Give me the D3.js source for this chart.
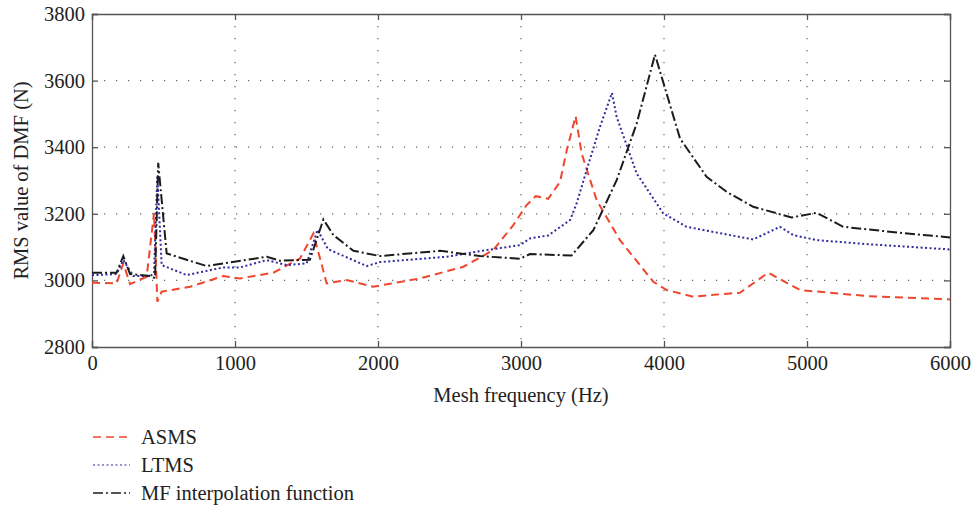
<!DOCTYPE html>
<html>
<head>
<meta charset="utf-8">
<script src="https://cdn.jsdelivr.net/npm/d3@7"></script>
<style>
  body { margin: 0; background: #fff; }
  text { font-family: "Liberation Serif", "DejaVu Serif", serif; fill: #222; }
</style>
</head>
<body>
<div class="canvas"></div>
<script>
// data
const xTicks = [0, 1000, 2000, 3000, 4000, 5000, 6000];
const yTicks = [2800, 3000, 3200, 3400, 3600, 3800];

const asmsX = [0, 21, 172, 219, 266, 382, 434, 457, 487, 685, 918, 1035, 1268, 1455, 1548, 1641, 1781, 1968, 2294, 2597, 2806, 2946, 3039, 3103, 3190, 3273, 3320, 3382, 3424, 3529, 3692, 3925, 4019, 4205, 4462, 4531, 4729, 4951, 5417, 6000];
const asmsY = [2993, 2993, 2991, 3051, 2989, 3011, 3203, 2936, 2966, 2981, 3013, 3006, 3023, 3066, 3141, 2991, 3001, 2981, 3006, 3041, 3091, 3166, 3226, 3253, 3245, 3296, 3391, 3493, 3381, 3241, 3121, 2996, 2971, 2951, 2961, 2963, 3023, 2971, 2953, 2943];

const ltmsX = [0, 21, 172, 219, 289, 406, 434, 457, 487, 662, 918, 1035, 1222, 1361, 1501, 1577, 1650, 1921, 2014, 2480, 2713, 2993, 3063, 3190, 3343, 3389, 3459, 3552, 3636, 3669, 3809, 3995, 4158, 4462, 4624, 4811, 4904, 5067, 5417, 6000];
const ltmsY = [3016, 3016, 3019, 3061, 3013, 3013, 3021, 3316, 3046, 3016, 3039, 3039, 3061, 3046, 3051, 3152, 3094, 3043, 3055, 3071, 3088, 3106, 3126, 3135, 3181, 3231, 3331, 3461, 3563, 3491, 3321, 3201, 3161, 3136, 3123, 3161, 3136, 3121, 3109, 3093];

const mfX = [0, 21, 172, 219, 266, 406, 441, 463, 522, 802, 1222, 1315, 1524, 1618, 1688, 1828, 2014, 2434, 2713, 2993, 3063, 3354, 3506, 3669, 3809, 3937, 4112, 4298, 4438, 4624, 4892, 5067, 5253, 5650, 6000];
const mfY = [3023, 3023, 3023, 3073, 3019, 3013, 3007, 3353, 3081, 3043, 3071, 3059, 3062, 3183, 3136, 3089, 3073, 3089, 3073, 3065, 3079, 3075, 3151, 3301, 3471, 3678, 3426, 3311, 3266, 3221, 3189, 3203, 3161, 3143, 3129];

const seriesNames = ['ASMS', 'LTMS', 'MF interpolation function'];
const seriesColors = ['#f0462d', '#2f2b9c', '#1c1c1c'];
const seriesDash = ['8,5', '2,2.5', '10,3,2,3'];

const series = [
  asmsX.map((x, i) => ({x, y: asmsY[i]})),
  ltmsX.map((x, i) => ({x, y: ltmsY[i]})),
  mfX.map((x, i) => ({x, y: mfY[i]}))
];

const fontSize = '20.5px';

const svg = d3.select('.canvas')
  .append('svg')
  .attr('width', 972)
  .attr('height', 507);

const margin = {top: 14, right: 22, bottom: 160, left: 92};
const graphWidth = 972 - margin.left - margin.right;
const graphHeight = 507 - margin.top - margin.bottom;

const graph = svg.append('g')
  .attr('transform', `translate(${margin.left}, ${margin.top})`);

const x = d3.scaleLinear().domain([0, 6000]).range([0, graphWidth]);
const y = d3.scaleLinear().domain([2800, 3800]).range([graphHeight, 0]);

// dotted grid
graph.append('g')
  .selectAll('line')
  .data(xTicks.slice(1, -1))
  .enter().append('line')
  .attr('x1', d => x(d)).attr('x2', d => x(d))
  .attr('y1', 0).attr('y2', graphHeight)
  .attr('stroke', '#666').attr('stroke-width', 1.2)
  .attr('stroke-dasharray', '1.2,10.8');
graph.append('g')
  .selectAll('line')
  .data(yTicks.slice(1, -1))
  .enter().append('line')
  .attr('x1', 0).attr('x2', graphWidth)
  .attr('y1', d => y(d)).attr('y2', d => y(d))
  .attr('stroke', '#666').attr('stroke-width', 1.2)
  .attr('stroke-dasharray', '1.2,10.8');

// axes, ticks pointing inwards on all four sides
const xAxisGroup = graph.append('g').attr('transform', `translate(0, ${graphHeight})`);
const yAxisGroup = graph.append('g');
const xTopGroup = graph.append('g');
const yRightGroup = graph.append('g').attr('transform', `translate(${graphWidth}, 0)`);

xAxisGroup.call(d3.axisBottom(x).tickValues(xTicks).tickSize(-6).tickPadding(8).tickFormat(d3.format('d')));
yAxisGroup.call(d3.axisLeft(y).tickValues(yTicks).tickSize(-6).tickPadding(7).tickFormat(d3.format('d')));
xTopGroup.call(d3.axisTop(x).tickValues(xTicks).tickSize(-6).tickFormat(''));
yRightGroup.call(d3.axisRight(y).tickValues(yTicks).tickSize(-6).tickFormat(''));

[xAxisGroup, yAxisGroup, xTopGroup, yRightGroup].forEach(g => {
  g.selectAll('path, line').attr('stroke', '#555').attr('stroke-width', 1.3);
  g.selectAll('text').attr('font-size', fontSize).attr('fill', '#222')
    .style('font-family', '"Liberation Serif", serif');
});

// lines
const line = d3.line().x(d => x(d.x)).y(d => y(d.y));
graph.selectAll('path.series')
  .data(series)
  .enter().append('path')
  .attr('class', 'series')
  .attr('d', line)
  .attr('fill', 'none')
  .attr('stroke', (d, i) => seriesColors[i])
  .attr('stroke-width', 2)
  .attr('stroke-dasharray', (d, i) => seriesDash[i]);

// axis titles
svg.append('text')
  .attr('x', margin.left + graphWidth / 2)
  .attr('y', 402)
  .attr('text-anchor', 'middle')
  .attr('font-size', fontSize)
  .text('Mesh frequency (Hz)');

svg.append('text')
  .attr('transform', `translate(28, ${margin.top + graphHeight / 2}) rotate(-90)`)
  .attr('text-anchor', 'middle')
  .attr('font-size', fontSize)
  .text('RMS value of DMF (N)');

// legend
const legend = svg.append('g').attr('transform', 'translate(93, 437)');
const rows = legend.selectAll('g')
  .data(seriesNames)
  .enter().append('g')
  .attr('transform', (d, i) => `translate(0, ${i * 28})`);
rows.append('line')
  .attr('x1', 0).attr('x2', 37)
  .attr('y1', 0).attr('y2', 0)
  .attr('stroke', (d, i) => seriesColors[i])
  .attr('stroke-width', (d, i) => i === 1 ? 1.2 : 1.6)
  .attr('stroke-dasharray', (d, i) => seriesDash[i]);
rows.append('text')
  .attr('x', 48).attr('y', 7)
  .attr('font-size', fontSize)
  .text(d => d);
</script>
</body>
</html>
